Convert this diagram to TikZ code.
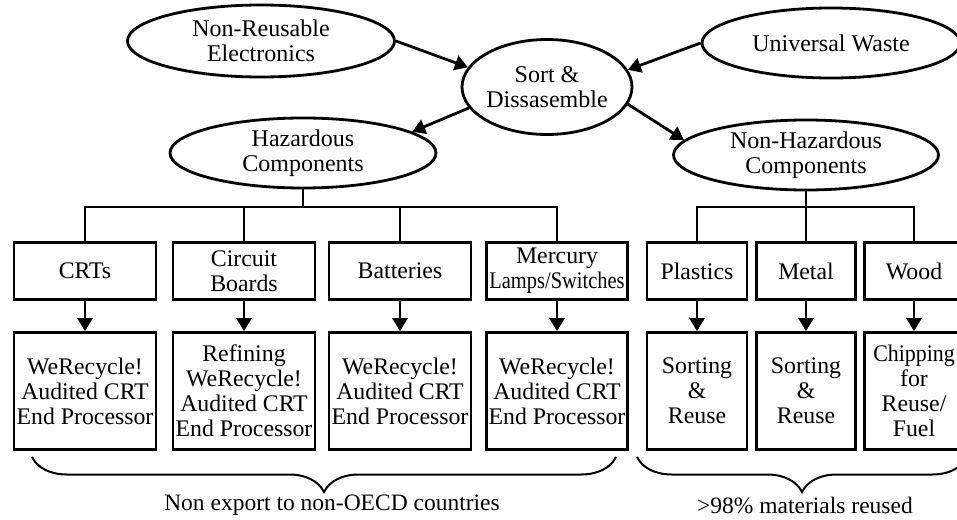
\documentclass[tikz,border=0pt]{standalone}
\usepackage{fontspec}
\setmainfont{Liberation Serif}
\usetikzlibrary{arrows.meta,shapes.geometric,decorations.pathreplacing}
\tikzset{
  every picture/.style = {
    line width = 2.8pt,
    >={Triangle[length=13pt,width=15pt]},
  }
  ,
  stage/.style = {
    ellipse,
    draw,
    align = center,
    inner sep = -2pt,
    font = \fontsize{24}{25}\selectfont
  }
  , % material classes
  part/.style = {
    rectangle,
    draw,
    align = center,
    inner sep = 0pt,
    minimum height = 57pt,
    font = \fontsize{23.8}{25}\selectfont
  }
  , % end of the chain
  sink/.style = {
    part,
    minimum height = 117pt
  }
  ,
  note/.style = {
    font = \fontsize{23.5}{24.5}\selectfont
  }
  ,
  under-brace/.style = {
    decorate,
    decoration = {brace, mirror, amplitude = 35pt},
    line width = 2pt
  }
}

\begin{document}
\begin{tikzpicture}[x=1pt, y=-1pt]
    \useasboundingbox (0,0) rectangle (957,519);
    \node[stage, minimum width=267pt, minimum height=72pt] at (261,41) (nre) {Non-Reusable\\Electronics};
    \node[stage, minimum width=258pt, minimum height=70pt] at (831,43) (uw) {Universal Waste};
    \node[stage, minimum width=170pt, minimum height=95pt] at (547,87) (sort) {Sort \&\\Dissasemble};
    \node[stage, minimum width=266pt, minimum height=70pt] at (303,153) (haz) {Hazardous\\Components};
    \node[stage, minimum width=265pt, minimum height=70pt] at (806,155) (nhaz) {Non-Hazardous\\Components};
    \draw[->] (nre.east) -- (sort.166);
    \draw[->] (uw.west) -- (sort.12);
    \draw[->] (sort.195) -- (haz.11);
    \draw[->] (sort.348) -- (nhaz.173);
    % hazardous branch
    \node[part, minimum width=142pt] at (85,271) (crt) {CRTs};
    \node[part, minimum width=142pt] at (244,271) (cb) {Circuit\\Boards};
    \node[part, minimum width=142pt] at (400,271) (bat) {Batteries};
    \node[part, minimum width=141pt] at (557,271) (merc) {Mercury\\\scalebox{0.86}[1]{Lamps/Switches}};
    \node[sink, minimum width=142pt] at (85,391) (crt-end) {WeRecycle!\\Audited CRT\\End Processor};
    \node[sink, minimum width=142pt] at (244,391) (cb-end) {Refining\\WeRecycle!\\Audited CRT\\End Processor};
    \node[sink, minimum width=142pt] at (400,391) (bat-end) {WeRecycle!\\Audited CRT\\End Processor};
    \node[sink, minimum width=141pt] at (557,391) (merc-end) {WeRecycle!\\Audited CRT\\End Processor};
    % non-hazardous branch
    \node[part, minimum width=100pt] at (697,271) (pla) {Plastics};
    \node[part, minimum width=99pt] at (806,271) (met) {Metal};
    \node[part, minimum width=99pt] at (914,271) (wood) {Wood};
    \node[sink, minimum width=100pt] at (697,391) (pla-end) {Sorting\\\&\\Reuse};
    \node[sink, minimum width=99pt] at (806,391) (met-end) {Sorting\\\&\\Reuse};
    \node[sink, minimum width=99pt] at (914,391) (wood-end) {\scalebox{0.92}[1]{Chipping}\\for\\Reuse/\\Fuel};
    \coordinate (hbar) at (303,207);
    \coordinate (nbar) at (806,207);
    \draw (haz) -- (hbar);
    \draw (nhaz) -- (nbar);
    \foreach \n in {crt,cb,bat,merc} {
      \draw (hbar) -| (\n.north);
      \draw[->] (\n) -- (\n-end);
    }
    \foreach \n in {pla,met,wood} {
      \draw (nbar) -| (\n.north);
      \draw[->] (\n) -- (\n-end);
    }
    % braces and their notes
    \coordinate (hl) at (32,457);
    \coordinate (hr) at (616,457);
    \coordinate (nl) at (637,457);
    \coordinate (nr) at (967,457);
    \draw[under-brace] (hl) -- (hr);
    \draw[under-brace] (nl) -- (nr);
    \node[note] at (332,505) (hnote) {Non export to non-OECD countries};
    \node[note] at (805,505) (nnote) {>98\% materials reused};
\end{tikzpicture}
\end{document}
